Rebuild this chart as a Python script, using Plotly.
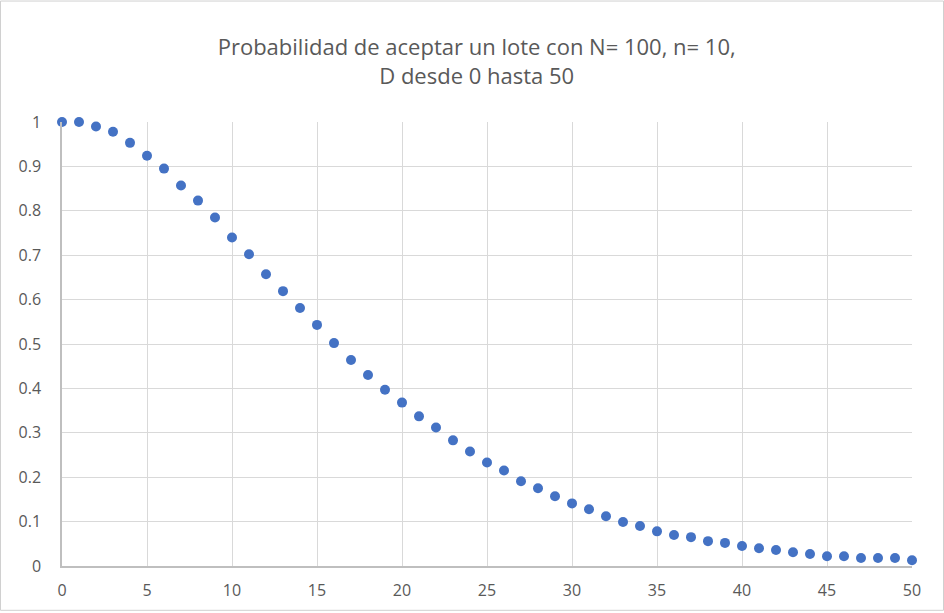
import plotly.graph_objects as go

# Defectivos D en el lote y probabilidad de aceptar
D = list(range(0, 51))
prob_aceptar = [
    1.000, 1.000, 0.990, 0.978, 0.953, 0.924, 0.895, 0.857, 0.823, 0.785,
    0.740, 0.702, 0.657, 0.619, 0.581, 0.543, 0.502, 0.464, 0.430, 0.397,
    0.368, 0.337, 0.312, 0.283, 0.258, 0.233, 0.215, 0.191, 0.175, 0.157,
    0.141, 0.128, 0.112, 0.099, 0.090, 0.078, 0.070, 0.065, 0.056, 0.052,
    0.045, 0.040, 0.036, 0.031, 0.027, 0.022, 0.022, 0.018, 0.018, 0.018,
    0.013,
]

font_fam = "Open Sans, Liberation Sans, sans-serif"
grey = "#595959"

fig = go.Figure()
fig.add_trace(go.Scatter(
    x=D, y=prob_aceptar,
    mode="markers",
    marker=dict(color="#4472C4", size=10),
    cliponaxis=False,
    showlegend=False,
))

fig.update_layout(
    width=944, height=613,
    margin=dict(l=62, r=32, t=122, b=45),
    paper_bgcolor="white",
    plot_bgcolor="white",
    title=dict(
        text="Probabilidad de aceptar un lote con N= 100, n= 10,<br>D desde 0 hasta 50",
        font=dict(family=font_fam, size=22, color=grey),
        x=0.505, xanchor="center",
        y=0.91, yanchor="top",
    ),
    xaxis=dict(
        range=[0, 50], dtick=5, tick0=0,
        showgrid=True, gridcolor="#d9d9d9", gridwidth=1,
        showline=True, linecolor="#bfbfbf", linewidth=1.5,
        zeroline=False,
        tickfont=dict(family=font_fam, size=16, color=grey),
        ticks="", ticklabelstandoff=9,
    ),
    yaxis=dict(
        range=[0, 1], dtick=0.1, tick0=0,
        showgrid=True, gridcolor="#d9d9d9", gridwidth=1,
        showline=True, linecolor="#bfbfbf", linewidth=1.5,
        zeroline=False,
        tickfont=dict(family=font_fam, size=16, color=grey),
        ticks="", ticklabelstandoff=16,
    ),
    shapes=[dict(
        type="rect", xref="paper", yref="paper",
        x0=-61.5 / 850, x1=1 + 31.5 / 850,
        y0=-44.5 / 446, y1=1 + 121.5 / 446,
        line=dict(color="#d0d0d0", width=1),
    )],
)

fig.write_html("out.html", config={"displayModeBar": False},
               post_script="document.body.style.margin='0';")
